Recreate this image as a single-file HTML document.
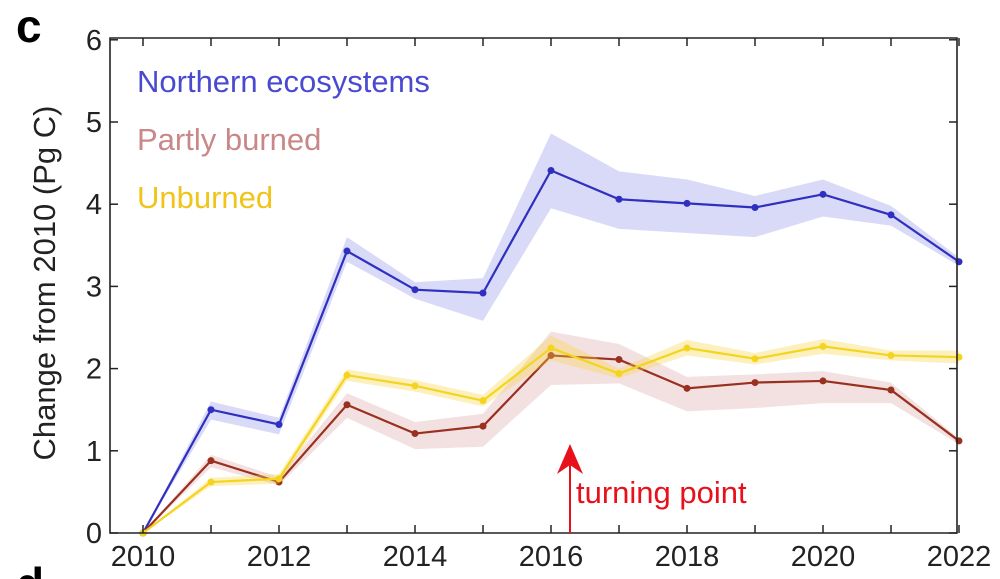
<!DOCTYPE html>
<html><head><meta charset="utf-8"><style>html,body{margin:0;background:#fff;width:1000px;height:579px;overflow:hidden}svg{display:block;font-family:"Liberation Sans",sans-serif;overflow:hidden}</style></head>
<body>
<svg width="1000" height="579" id="c">
<text x="16" y="42" font-size="46" font-weight="bold">c</text>
<text x="16" y="600" font-size="46" font-weight="bold">d</text>
<g id="plot"></g>
<text transform="translate(55,283) rotate(-90)" text-anchor="middle" font-size="31" fill="#222">Change from 2010 (Pg C)</text>
<text x="137" y="92" font-size="31" fill="#4a4ad0">Northern ecosystems</text>
<text x="137" y="150" font-size="31" fill="#c98888">Partly burned</text>
<text x="137" y="208" font-size="31" fill="#f0c419">Unburned</text>
<line x1="570" y1="533" x2="570" y2="465" stroke="#e8101a" stroke-width="2"/>
<polygon points="570,444 557,474 570,465 583,474" fill="#e8101a"/>
<text x="576" y="503" font-size="31" fill="#e8101a">turning point</text>
</svg>
<script>
const years=[2010,2011,2012,2013,2014,2015,2016,2017,2018,2019,2020,2021,2022];
const northern=[0,1.5,1.32,3.43,2.96,2.92,4.41,4.06,4.01,3.96,4.12,3.87,3.30];
const northernLo=[0,1.38,1.2,3.3,2.85,2.58,3.95,3.7,3.65,3.6,3.85,3.74,3.25];
const northernHi=[0,1.6,1.4,3.6,3.05,3.1,4.86,4.4,4.3,4.1,4.3,3.98,3.35];
const partly=[0,0.88,0.62,1.56,1.21,1.30,2.16,2.11,1.76,1.83,1.85,1.74,1.12];
const partlyLo=[0,0.8,0.58,1.4,1.02,1.05,1.8,1.82,1.48,1.52,1.58,1.58,1.08];
const partlyHi=[0,0.95,0.68,1.7,1.35,1.45,2.45,2.3,1.9,1.93,1.97,1.83,1.15];
const unburned=[0,0.62,0.66,1.92,1.79,1.61,2.25,1.94,2.25,2.12,2.27,2.16,2.14];
const unburnedLo=[0,0.57,0.6,1.85,1.72,1.54,2.1,1.88,2.16,2.05,2.18,2.1,2.06];
const unburnedHi=[0,0.67,0.72,1.99,1.86,1.68,2.4,2.0,2.35,2.19,2.36,2.22,2.22];
const yTicks=[0,1,2,3,4,5,6];
const xTicks=[2010,2012,2014,2016,2018,2020,2022];
const X=v=>143+(v-2010)*68, Y=v=>533-v*82.2;
const g=document.getElementById('plot'),NS='http://www.w3.org/2000/svg';
function mk(t,a){const e=document.createElementNS(NS,t);for(const k in a)e.setAttribute(k,a[k]);g.appendChild(e);return e;}
function series(v,lo,hi,col,band,name){
 const p=years.map((y,i)=>X(y)+','+Y(hi[i])).join(' ')+' '+years.map((y,i)=>X(y)+','+Y(lo[i])).reverse().join(' ');
 const b=mk('polygon',{points:p,fill:band});
 
 
 const l=mk('polyline',{points:years.map((y,i)=>X(y)+','+Y(v[i])).join(' '),fill:'none',stroke:col,'stroke-width':2.2});
 
 
 years.forEach((y,i)=>{const c=mk('circle',{cx:X(y),cy:Y(v[i]),r:3.5,fill:col});
 
 });
}
series(northern,northernLo,northernHi,'#2f2fc0','rgba(120,120,230,0.28)','northern');
series(partly,partlyLo,partlyHi,'#9a3020','rgba(200,120,120,0.22)','partly-burned');
series(unburned,unburnedLo,unburnedHi,'#f5d420','rgba(245,215,70,0.35)','unburned');
const ax=mk('path',{d:'M110,38 L110,533 L957,533 L957,38 Z',fill:'none',stroke:'#222','stroke-width':1.6});


yTicks.forEach(t=>{const y=Y(t);
 mk('line',{x1:110,y1:y,x2:118,y2:y,stroke:'#222','stroke-width':1.5});
 mk('line',{x1:949,y1:y,x2:957,y2:y,stroke:'#222','stroke-width':1.5});
 const tx=mk('text',{x:102,y:y+10,'text-anchor':'end','font-size':29,fill:'#222'});tx.textContent=t;
 
 });
years.forEach(yr=>{const x=X(yr);
 mk('line',{x1:x,y1:533,x2:x,y2:525,stroke:'#222','stroke-width':1.5});
 mk('line',{x1:x,y1:38,x2:x,y2:46,stroke:'#222','stroke-width':1.5});});
xTicks.forEach(t=>{const tx=mk('text',{x:X(t),y:566,'text-anchor':'middle','font-size':29,fill:'#222'});tx.textContent=t;
 
 });
</script>
</body></html>
